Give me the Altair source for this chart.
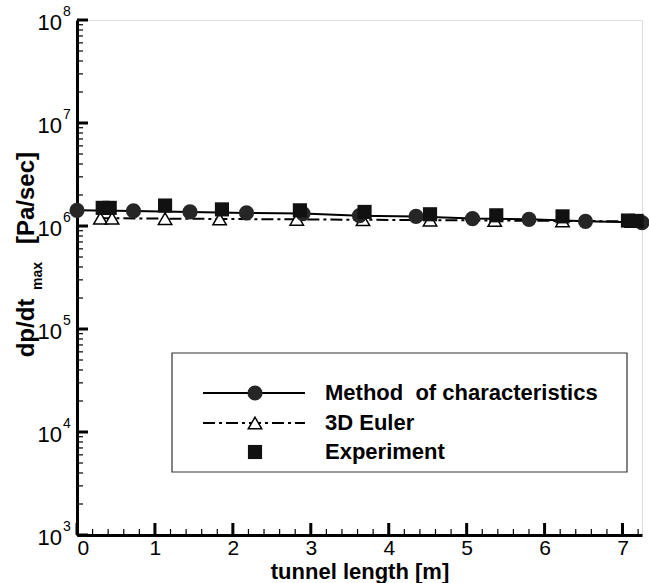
import altair as alt
import pandas as pd

# Method of characteristics (solid line with filled circles)
moc_x = [0.0, 0.725, 1.45, 2.175, 2.9, 3.625, 4.35, 5.075, 5.8, 6.525, 7.25]
moc_y = [1.42e6, 1.40e6, 1.37e6, 1.34e6, 1.32e6, 1.26e6, 1.24e6, 1.18e6, 1.16e6, 1.11e6, 1.08e6]

# 3D Euler (dash-dot line with open triangles)
euler_x = [0.30, 0.45, 1.13, 1.83, 2.82, 3.67, 4.53, 5.36, 6.23, 7.12]
euler_y = [1.19e6, 1.19e6, 1.18e6, 1.17e6, 1.16e6, 1.15e6, 1.14e6, 1.13e6, 1.12e6, 1.11e6]

# Experiment (filled squares)
exp_x = [0.33, 0.42, 1.13, 1.86, 2.86, 3.69, 4.53, 5.38, 6.23, 7.07, 7.18]
exp_y = [1.50e6, 1.50e6, 1.58e6, 1.45e6, 1.42e6, 1.37e6, 1.30e6, 1.27e6, 1.24e6, 1.13e6, 1.12e6]

# Axis tick positions and labels
x_major = [0, 1, 2, 3, 4, 5, 6, 7]
x_minor = [round(i * 0.2, 1) for i in range(0, 37) if i % 5 != 0]
y_major = [1e3, 1e4, 1e5, 1e6, 1e7, 1e8]
y_exponents = ["3", "4", "5", "6", "7", "8"]
y_minor = [m * 10 ** d for d in range(3, 8) for m in range(2, 10)]

FONT = "Liberation Sans"
W, H = 565, 515

moc = pd.DataFrame({"x": moc_x, "y": moc_y})
euler = pd.DataFrame({"x": euler_x, "y": euler_y})
exp = pd.DataFrame({"x": exp_x, "y": exp_y})

xscale = alt.Scale(domain=[0, 7.25], nice=False, zero=False)
yscale = alt.Scale(type="log", domain=[1e3, 1e8], nice=False)

xaxis = alt.Axis(
    title="tunnel length [m]", titleFont=FONT, titleFontSize=22, titleFontWeight="bold",
    titleColor="black", titleY=43, titleBaseline="alphabetic",
    values=x_major, format="d", labelFont=FONT, labelFontSize=21, labelColor="black",
    labelPadding=2, tickSize=0, grid=False, domainColor="black", domainWidth=3,
)
yaxis = alt.Axis(
    title="", values=y_major, labels=False,
    tickSize=0, grid=False, domainColor="black", domainWidth=3,
)


def X(field="x"):
    return alt.X(f"{field}:Q", scale=xscale, axis=xaxis)


def Y(field="y"):
    return alt.Y(f"{field}:Q", scale=yscale, axis=yaxis)


moc_line = alt.Chart(moc).mark_line(color="black", strokeWidth=2).encode(x=X(), y=Y())
moc_pts = alt.Chart(moc).mark_point(
    shape="circle", filled=True, color="#262626", size=230, opacity=1
).encode(x=X(), y=Y())

euler_line = alt.Chart(euler).mark_line(
    color="black", strokeWidth=2, strokeDash=[12, 4, 3, 4]
).encode(x=X(), y=Y())
euler_pts = alt.Chart(euler).mark_point(
    shape="triangle-up", filled=True, fill="white", stroke="black", strokeWidth=1.5,
    size=180, opacity=1
).encode(x=X(), y=Y())

exp_pts = alt.Chart(exp).mark_point(
    shape="square", filled=True, color="#111111", size=200, opacity=1
).encode(x=X(), y=Y())

# Inward-pointing tick marks on the left and bottom axes
ym = alt.Chart(pd.DataFrame({"v": y_major})).mark_rule(color="black", strokeWidth=3).encode(
    y=Y("v"), x=alt.value(0), x2=alt.value(11))
yn = alt.Chart(pd.DataFrame({"v": y_minor})).mark_rule(color="black", strokeWidth=1.2).encode(
    y=Y("v"), x=alt.value(0), x2=alt.value(6))
xm = alt.Chart(pd.DataFrame({"v": x_major})).mark_rule(color="black", strokeWidth=3).encode(
    x=X("v"), y=alt.value(H), y2=alt.value(H - 12))
xn = alt.Chart(pd.DataFrame({"v": x_minor})).mark_rule(color="black", strokeWidth=1.2).encode(
    x=X("v"), y=alt.value(H), y2=alt.value(H - 6))

# Power-of-ten tick labels on the log axis: "10" with a raised exponent
ylab = pd.DataFrame({"v": y_major, "e": y_exponents})
ybase = alt.Chart(ylab).mark_text(
    text="10", font=FONT, fontSize=22, align="right", baseline="middle", color="black", dy=3
).encode(y=Y("v"), x=alt.value(-15))
yexp = alt.Chart(ylab).mark_text(
    font=FONT, fontSize=14, align="left", baseline="middle", color="black", dy=-8
).encode(y=Y("v"), x=alt.value(-14), text="e:N")

# Legend box
lx0, lx1, ly0, ly1 = 95, 550, 333, 452
one = pd.DataFrame({"k": [0]})
box = alt.Chart(one).mark_rect(
    fill="white", stroke="#333333", strokeWidth=1.2
).encode(x=alt.value(lx0), x2=alt.value(lx1), y=alt.value(ly0), y2=alt.value(ly1))

rows = [373, 403, 432]
sx0, sx1, sxc, tx = 126, 228, 178, 248
leg = [
    alt.Chart(one).mark_rule(color="black", strokeWidth=2).encode(
        x=alt.value(sx0), x2=alt.value(sx1), y=alt.value(rows[0])),
    alt.Chart(one).mark_point(shape="circle", filled=True, color="#262626", size=230, opacity=1).encode(
        x=alt.value(sxc), y=alt.value(rows[0])),
    alt.Chart(one).mark_rule(color="black", strokeWidth=2, strokeDash=[12, 4, 3, 4]).encode(
        x=alt.value(sx0), x2=alt.value(sx1), y=alt.value(rows[1])),
    alt.Chart(one).mark_point(shape="triangle-up", filled=True, fill="white", stroke="black",
                              strokeWidth=1.5, size=180, opacity=1).encode(
        x=alt.value(sxc), y=alt.value(rows[1])),
    alt.Chart(one).mark_point(shape="square", filled=True, color="#111111", size=200, opacity=1).encode(
        x=alt.value(sxc), y=alt.value(rows[2])),
]
for label, ry in zip(["Method\u00a0\u00a0of characteristics", "3D Euler", "Experiment"], rows):
    leg.append(
        alt.Chart(one).mark_text(
            text=label, font=FONT, fontSize=22, fontWeight="bold", align="left",
            baseline="middle", color="black"
        ).encode(x=alt.value(tx), y=alt.value(ry))
    )

# Rotated y-axis title with subscript
ytitle = [
    alt.Chart(one).mark_text(text="dp/dt", font=FONT, fontSize=24, fontWeight="bold", angle=270,
                             align="center", baseline="middle", color="black").encode(
        x=alt.value(-50), y=alt.value(308)),
    alt.Chart(one).mark_text(text="max", font=FONT, fontSize=14, fontWeight="bold", angle=270,
                             align="center", baseline="middle", color="black").encode(
        x=alt.value(-39), y=alt.value(256)),
    alt.Chart(one).mark_text(text="[Pa/sec]", font=FONT, fontSize=24, fontWeight="bold", angle=270,
                             align="center", baseline="middle", color="black").encode(
        x=alt.value(-50), y=alt.value(178)),
]

chart = alt.layer(
    yn, ym, xn, xm, ybase, yexp,
    euler_line, moc_line, euler_pts, moc_pts, exp_pts,
    box, *leg, *ytitle,
).properties(
    width=W, height=H,
    autosize=alt.AutoSizeParams(type="none"),
    padding={"left": 77, "top": 20, "right": 7, "bottom": 48},
).configure_view(
    stroke="black", strokeWidth=2.5
).configure(
    font=FONT, background="white"
)

chart.save("out.html", embed_options={"renderer": "svg", "actions": False})
